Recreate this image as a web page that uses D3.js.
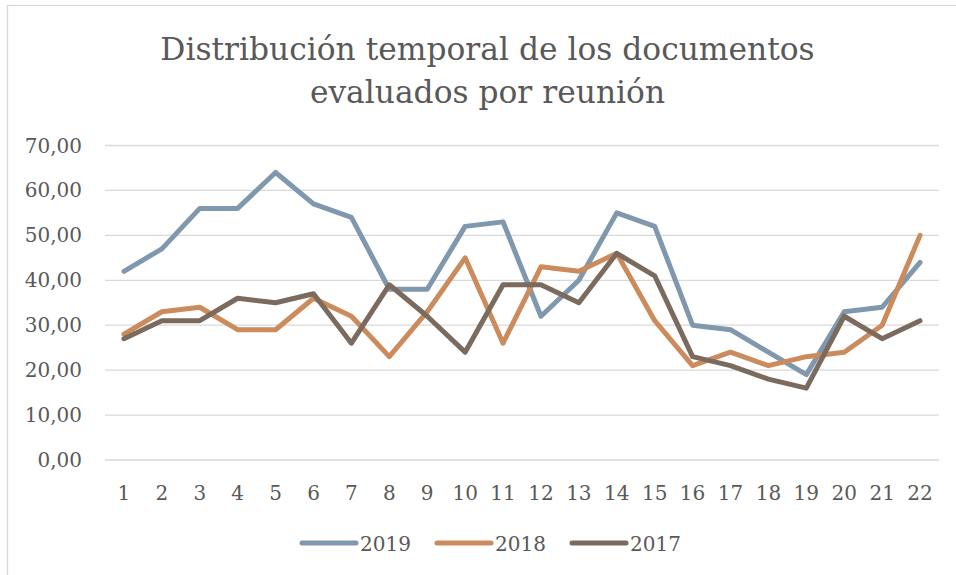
<!DOCTYPE html>
<html lang="es">
<head>
  <meta charset="UTF-8" />
  <title>Distribución temporal</title>
  <style>
    body {
      margin: 0;
      background: #fff;
    }

    svg {
      display: block;
      font-family: "DejaVu Serif", serif;
    }

    .grid line {
      stroke: #d9d9d9;
      stroke-width: 1.3;
    }

    .tick-label {
      fill: #595959;
      font-size: 20px;
    }

    .title {
      fill: #595959;
      font-size: 31.3px;
    }

    .series {
      fill: none;
      stroke-width: 5;
      stroke-linejoin: round;
      stroke-linecap: round;
    }
  </style>
</head>

<body>
  <svg width="956" height="575"></svg>

  <script src="https://d3js.org/d3.v7.min.js"></script>
  <script>
    const meetings = d3.range(1, 23).map(String);
    const years = ["2019", "2018", "2017"];

    const values2019 = [42, 47, 56, 56, 64, 57, 54, 38, 38, 52, 53, 32, 40, 55, 52, 30, 29, 24, 19, 33, 34, 44];
    const values2018 = [28, 33, 34, 29, 29, 36, 32, 23, 33, 45, 26, 43, 42, 46, 31, 21, 24, 21, 23, 24, 30, 50];
    const values2017 = [27, 31, 31, 36, 35, 37, 26, 39, 32, 24, 39, 39, 35, 46, 41, 23, 21, 18, 16, 32, 27, 31];

    const yTicks = [0, 10, 20, 30, 40, 50, 60, 70];
    const titleLines = ["Distribución temporal de los documentos", "evaluados por reunión"];

    const colors = { "2019": "#7f98ad", "2018": "#cc8b5c", "2017": "#7b6a5e" };
    const seriesByYear = { "2019": values2019, "2018": values2018, "2017": values2017 };

    const svg = d3.select("svg");

    // chart area border (runs off the bottom/right of the picture)
    svg.append("rect")
      .attr("x", 7.5)
      .attr("y", 5.5)
      .attr("width", 1000)
      .attr("height", 600)
      .attr("fill", "none")
      .attr("stroke", "#d9d9d9")
      .attr("stroke-width", 1.3);

    const plotLeft = 105, plotRight = 939, plotTop = 145.5, plotBottom = 460;

    const x = d3.scaleBand().domain(meetings).range([plotLeft, plotRight]);
    const y = d3.scaleLinear().domain([0, 70]).range([plotBottom, plotTop]);

    // title
    svg.append("text")
      .attr("class", "title")
      .attr("text-anchor", "middle")
      .selectAll("tspan")
      .data(titleLines)
      .enter()
      .append("tspan")
      .attr("x", 487.5)
      .attr("y", (d, i) => 60 + i * 43)
      .text(d => d);

    // gridlines
    svg.append("g")
      .attr("class", "grid")
      .selectAll("line")
      .data(yTicks)
      .enter()
      .append("line")
      .attr("x1", plotLeft)
      .attr("x2", plotRight)
      .attr("y1", d => y(d))
      .attr("y2", d => y(d));

    // y labels
    const fmt = d => d.toFixed(2).replace(".", ",");
    svg.append("g")
      .selectAll("text")
      .data(yTicks)
      .enter()
      .append("text")
      .attr("class", "tick-label")
      .attr("x", 82)
      .attr("y", d => y(d) + 7)
      .attr("text-anchor", "end")
      .text(fmt);

    // x labels
    svg.append("g")
      .selectAll("text")
      .data(meetings)
      .enter()
      .append("text")
      .attr("class", "tick-label")
      .attr("x", d => x(d) + x.bandwidth() / 2)
      .attr("y", 500)
      .attr("text-anchor", "middle")
      .text(d => d);

    // lines, drawn 2019 first so 2017 sits on top
    const line = d3.line()
      .x((d, i) => x(meetings[i]) + x.bandwidth() / 2)
      .y(d => y(d));

    years.forEach(yr => {
      svg.append("path")
        .attr("class", "series")
        .attr("stroke", colors[yr])
        .attr("d", line(seriesByYear[yr]));
    });

    // legend
    const legendX = { "2019": 302, "2018": 437, "2017": 572 };
    const legend = svg.append("g")
      .selectAll("g")
      .data(years)
      .enter()
      .append("g")
      .attr("transform", d => `translate(${legendX[d]},543)`);

    legend.append("line")
      .attr("x1", 0)
      .attr("x2", 54)
      .attr("stroke", d => colors[d])
      .attr("stroke-width", 5)
      .attr("stroke-linecap", "round");

    legend.append("text")
      .attr("class", "tick-label")
      .attr("x", 58)
      .attr("y", 8)
      .text(d => d);
  </script>
</body>
</html>
